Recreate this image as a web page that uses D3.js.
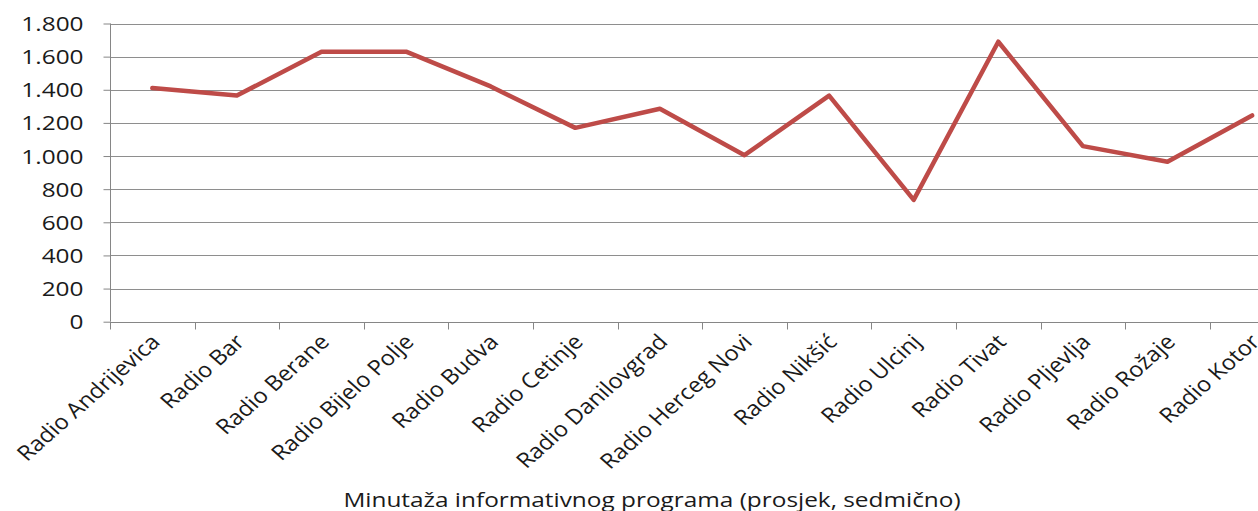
<!DOCTYPE html>
<html>
<head>
<meta charset="utf-8">
<script src="https://cdn.jsdelivr.net/npm/d3@7"></script>
<style>
  html, body { margin: 0; padding: 0; background: #fff; overflow: hidden; }
  svg { display: block; }
  text { font-family: "Open Sans", "Noto Sans", sans-serif; fill: #1a1a1a; }
</style>
</head>
<body>
<svg id="chart" width="1258" height="511"></svg>
<script>
const categories = ["Radio Andrijevica", "Radio Bar", "Radio Berane", "Radio Bijelo Polje", "Radio Budva", "Radio Cetinje", "Radio Danilovgrad", "Radio Herceg Novi", "Radio Nikšić", "Radio Ulcinj", "Radio Tivat", "Radio Pljevlja", "Radio Rožaje", "Radio Kotor"];
const values = [1410, 1365, 1630, 1630, 1420, 1170, 1285, 1005, 1365, 735, 1690, 1060, 965, 1245];
const yTicks = [0, 200, 400, 600, 800, 1000, 1200, 1400, 1600, 1800];
const axisTitle = "Minutaža informativnog programa (prosjek, sedmično)";

const svg = d3.select("#chart");
const plotLeft = 110, plotTop = 23.5, plotBottom = 321.7, step = 84.6;
const sx = 1.25; // horizontal stretch of the picture
const sxLabel = 1.13;

const x = d3.scaleBand().domain(categories).range([plotLeft, plotLeft + step * categories.length]).padding(0);
const y = d3.scaleLinear().domain([0, 1800]).range([plotBottom, plotTop]);

const fmt = v => d3.format(",")(v).replace(/,/g, ".");

// gridlines
svg.append("g").selectAll("line").data(yTicks.filter(d => d > 0)).join("line")
  .attr("x1", plotLeft).attr("x2", 1258)
  .attr("y1", d => Math.round(y(d)) + 0.5).attr("y2", d => Math.round(y(d)) + 0.5)
  .attr("stroke", "#8e8e8e").attr("stroke-width", 1);

// y axis
const yAxis = d3.axisLeft(y).tickValues(yTicks).tickSize(7).tickPadding(0).tickFormat(() => "");
const yg = svg.append("g").attr("transform", `translate(${plotLeft + 0.5},0)`).call(yAxis);
yg.select(".domain").attr("stroke", "#868686").attr("d", `M0,${plotBottom}V${plotTop}`);
yg.selectAll(".tick line").attr("stroke", "#868686");
yg.selectAll(".tick").each(function(d) {
  d3.select(this).append("text")
    .attr("transform", `translate(-27,0) scale(${sx},1)`)
    .attr("text-anchor", "end").attr("dy", "0.36em")
    .style("font-size", "19.5px")
    .text(fmt(d));
});

// x axis
const xAxis = d3.axisBottom(x).tickSize(0).tickFormat(() => "");
const xg = svg.append("g").attr("transform", `translate(0,${Math.round(plotBottom) + 0.5})`).call(xAxis);
xg.select(".domain").attr("stroke", "#868686").attr("d", `M${plotLeft},0H1258`);
xg.selectAll(".tick line").remove();
// category boundary ticks
xg.append("g").selectAll("line").data(categories).join("line")
  .attr("x1", d => Math.round(x(d)) + 0.5).attr("x2", d => Math.round(x(d)) + 0.5)
  .attr("y1", 0).attr("y2", 7).attr("stroke", "#868686");
xg.selectAll(".tick").each(function(d) {
  d3.select(this).append("text")
    .attr("transform", `translate(-3,10) scale(${sxLabel},1) rotate(-45)`)
    .attr("text-anchor", "end").attr("dy", "0.72em")
    .style("font-size", "21px")
    .text(d);
});

// line
const line = d3.line().x((d, i) => x(categories[i]) + x.bandwidth() / 2).y(d => y(d));
svg.append("path").datum(values)
  .attr("d", line)
  .attr("fill", "none").attr("stroke", "#BE4B48").attr("stroke-width", 4.5)
  .attr("stroke-linejoin", "round").attr("stroke-linecap", "round");

// axis title
svg.append("text")
  .attr("transform", `translate(652,506.5) scale(${sx},1)`)
  .attr("text-anchor", "middle")
  .style("font-size", "19.5px")
  .text(axisTitle);
</script>
</body>
</html>
